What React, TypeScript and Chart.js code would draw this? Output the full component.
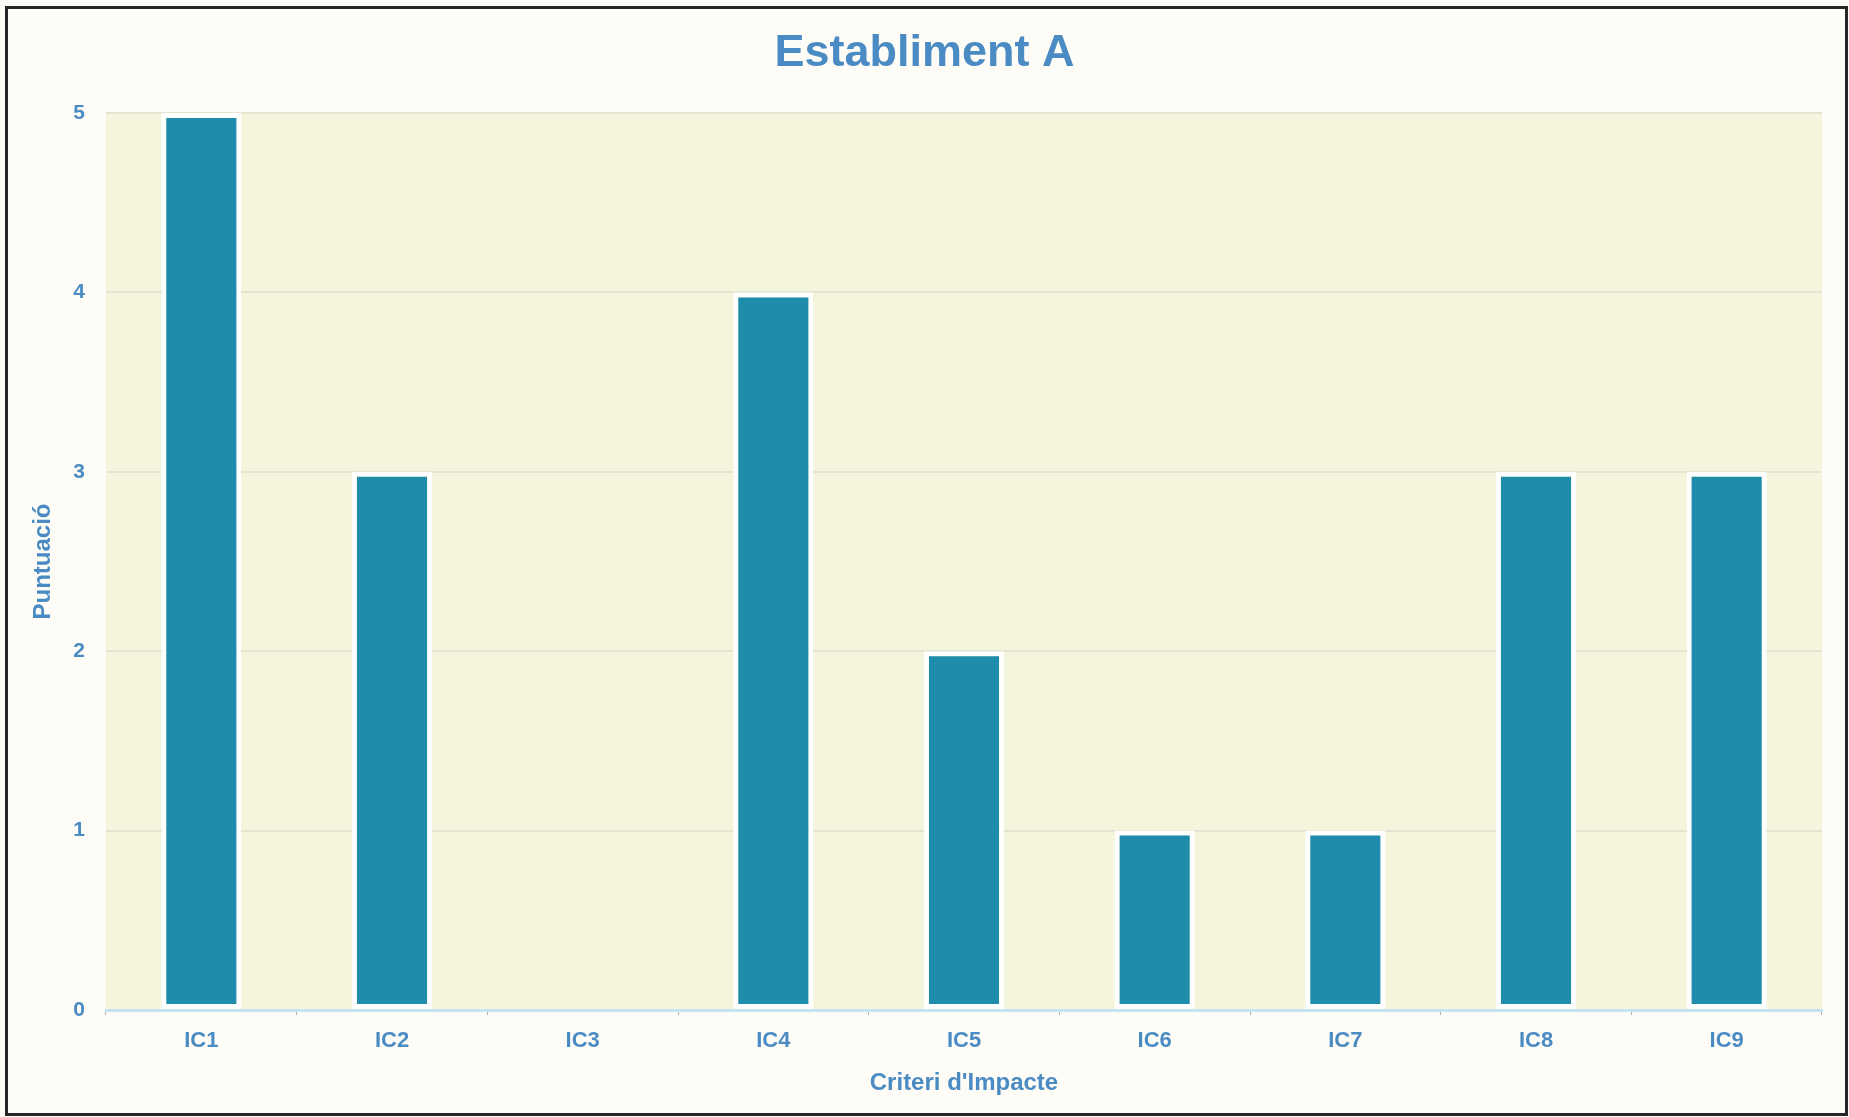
import React, { useEffect, useRef } from "react";
import { Chart, registerables } from "chart.js";

Chart.register(...registerables);

const categories = ["IC1", "IC2", "IC3", "IC4", "IC5", "IC6", "IC7", "IC8", "IC9"];
const scores = [5, 3, 0, 4, 2, 1, 1, 3, 3];
const yTicks = [0, 1, 2, 3, 4, 5];
const chartTitle = "Establiment A";
const xTitle = "Criteri d'Impacte";
const yTitle = "Puntuació";

const TEXT_BLUE = "#4b8bc3";
const FONT = "'Liberation Sans', Arial, sans-serif";

const plotBg = {
  id: "plotBg",
  beforeDraw(chart: any) {
    const { ctx, chartArea } = chart;
    if (!chartArea) return;
    ctx.save();
    ctx.fillStyle = "#f5f5dd";
    ctx.fillRect(chartArea.left, chartArea.top, chartArea.right - chartArea.left, chartArea.bottom - chartArea.top);
    ctx.restore();
  },
};

export default function App() {
  const ref = useRef<HTMLCanvasElement | null>(null);

  useEffect(() => {
    if (!ref.current) return;
    const chart = new Chart(ref.current, {
      type: "bar",
      data: {
        labels: categories,
        datasets: [
          {
            label: yTitle,
            data: scores,
            backgroundColor: "#1e8cab",
            borderColor: "#ffffff",
            borderWidth: 5,
            borderSkipped: false,
            barPercentage: 0.84,
            categoryPercentage: 0.5,
          },
        ],
      },
      options: {
        responsive: false,
        animation: false,
        devicePixelRatio: 1,
        layout: { padding: { left: 27, right: 27, top: 0, bottom: 0 } },
        plugins: {
          legend: { display: false },
          tooltip: { enabled: false },
          title: {
            display: true,
            text: chartTitle,
            color: TEXT_BLUE,
            font: { family: FONT, size: 45, weight: "bold" },
            padding: { top: 27, bottom: 32 },
          },
        },
        scales: {
          x: {
            grid: {
              display: true,
              drawOnChartArea: false,
              drawTicks: true,
              tickLength: 5,
              color: "#9fb3c0",
            },
            border: { display: true, color: "#c6e4f0", width: 3 },
            ticks: {
              color: TEXT_BLUE,
              font: { family: FONT, size: 22, weight: "bold" },
              padding: 13,
            },
            title: {
              display: true,
              text: xTitle,
              color: TEXT_BLUE,
              font: { family: FONT, size: 24, weight: "bold" },
              padding: { top: 0, bottom: 19 },
            },
            afterFit(scale: any) {
              scale.height = 107;
            },
          },
          y: {
            min: 0,
            max: 5,
            afterBuildTicks(scale: any) {
              scale.ticks = yTicks.map((v) => ({ value: v }));
            },
            grid: {
              color: "#e4e4d3",
              lineWidth: 2,
              drawTicks: false,
            },
            border: { display: false },
            ticks: {
              color: TEXT_BLUE,
              font: { family: FONT, size: 21, weight: "bold" },
              padding: 21,
            },
            title: {
              display: true,
              text: yTitle,
              color: TEXT_BLUE,
              font: { family: FONT, size: 24, weight: "bold" },
              padding: { top: 2, bottom: 0 },
            },
            afterFit(scale: any) {
              scale.width = 79;
            },
          },
        },
      },
      plugins: [plotBg],
    });
    return () => chart.destroy();
  }, []);

  return (
    <div
      style={{
        position: "absolute",
        left: 0,
        top: 0,
        width: 1849,
        height: 1117,
        background: "#fdfcf6",
        overflow: "hidden",
      }}
    >
      <div
        style={{
          position: "absolute",
          left: 5,
          top: 6,
          width: 1837,
          height: 1104,
          border: "3px solid #262626",
          boxSizing: "content-box",
        }}
      />
      <canvas
        ref={ref}
        width={1849}
        height={1117}
        style={{ position: "absolute", left: 0, top: 0, width: 1849, height: 1117 }}
      />
    </div>
  );
}
